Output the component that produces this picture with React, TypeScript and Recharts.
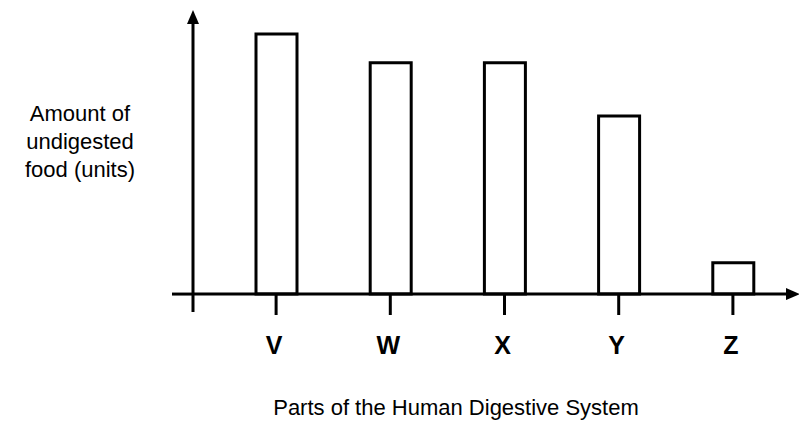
import { BarChart, Bar, XAxis, YAxis, ReferenceLine } from "recharts";

const parts = ["V", "W", "X", "Y", "Z"];
const amounts = [10, 8.9, 8.9, 6.85, 1.2];
const yTicks = [0];

const chartData = parts.map((part, i) => ({ part, amount: amounts[i] }));

const FONT = "'Liberation Sans', Arial, sans-serif";

function PartTick(props: any) {
  const { x, y, payload } = props;
  return (
    <g>
      {/* tick mark crosses up to the zero line */}
      <line x1={x} x2={x} y1={y - 17} y2={y + 3} stroke="#000" strokeWidth={3} />
      <text x={x - 2} y={y + 42} textAnchor="middle" fontSize={25} fontWeight="bold" fill="#000" fontFamily={FONT}>
        {payload.value}
      </text>
    </g>
  );
}

function YTitle(props: any) {
  const { viewBox } = props;
  const cx = viewBox.x + 80;
  return (
    <text x={cx} y={121} textAnchor="middle" fontSize={22} fill="#000" fontFamily={FONT}>
      <tspan x={cx} dy={0}>Amount of</tspan>
      <tspan x={cx} dy={28}>undigested</tspan>
      <tspan x={cx} dy={28}>food (units)</tspan>
    </text>
  );
}

function XTitle() {
  return (
    <text x={456} y={415} textAnchor="middle" fontSize={22} fill="#000" fontFamily={FONT}>
      Parts of the Human Digestive System
    </text>
  );
}

export default function App() {
  return (
    <div style={{ position: "absolute", left: 0, top: 0, background: "#fff" }}>
      <svg width={0} height={0} style={{ position: "absolute" }}>
        <defs>
          <marker id="arrowHead" viewBox="0 0 14 12" markerWidth={14} markerHeight={12} refX={4} refY={6}
            orient="auto-start-reverse" markerUnits="userSpaceOnUse">
            <path d="M0,0 L14,6 L0,12 z" fill="#000" />
          </marker>
        </defs>
      </svg>
      <BarChart
        width={799}
        height={434}
        data={chartData}
        margin={{ top: 20, right: 9, left: 0, bottom: 0 }}
        barSize={41}
      >
        <XAxis
          dataKey="part"
          height={122}
          padding={{ left: 26, right: 0 }}
          axisLine={false}
          tickLine={false}
          tickSize={0}
          tickMargin={0}
          tick={<PartTick />}
          interval={0}
          label={<XTitle />}
        />
        <YAxis
          width={193}
          domain={[-0.69, 10.54]}
          ticks={yTicks}
          allowDataOverflow
          tickSize={21}
          tickFormatter={() => ""}
          tickLine={{ stroke: "#000", strokeWidth: 3 }}
          axisLine={{ stroke: "#000", strokeWidth: 3, markerStart: "url(#arrowHead)" }}
          label={<YTitle />}
        />
        <ReferenceLine y={0} stroke="#000" strokeWidth={3} markerEnd="url(#arrowHead)" />
        <Bar dataKey="amount" fill="#fff" stroke="#000" strokeWidth={3} isAnimationActive={false} />
      </BarChart>
    </div>
  );
}
